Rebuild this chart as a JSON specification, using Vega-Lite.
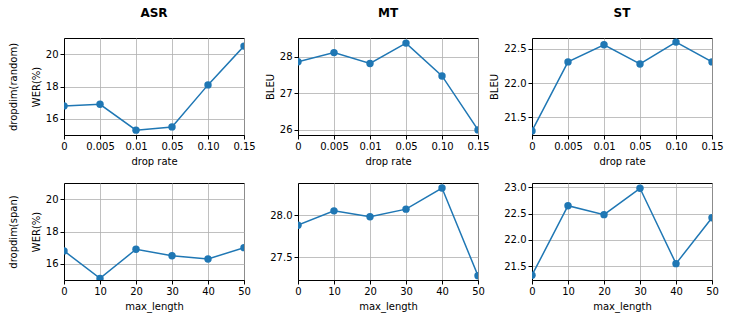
{
  "$schema": "https://vega.github.io/schema/vega-lite/v6.json",
  "padding": {"left": 7, "top": 6, "right": 5, "bottom": 5},
  "background": "white",
  "datasets": {
    "random": [
      {"task": "ASR", "rate": "0", "v": 16.8},
      {"task": "ASR", "rate": "0.005", "v": 16.9},
      {"task": "ASR", "rate": "0.01", "v": 15.3},
      {"task": "ASR", "rate": "0.05", "v": 15.5},
      {"task": "ASR", "rate": "0.10", "v": 18.1},
      {"task": "ASR", "rate": "0.15", "v": 20.5},
      {"task": "MT", "rate": "0", "v": 27.87},
      {"task": "MT", "rate": "0.005", "v": 28.12},
      {"task": "MT", "rate": "0.01", "v": 27.82},
      {"task": "MT", "rate": "0.05", "v": 28.38},
      {"task": "MT", "rate": "0.10", "v": 27.48},
      {"task": "MT", "rate": "0.15", "v": 26.0},
      {"task": "ST", "rate": "0", "v": 21.3},
      {"task": "ST", "rate": "0.005", "v": 22.31},
      {"task": "ST", "rate": "0.01", "v": 22.56},
      {"task": "ST", "rate": "0.05", "v": 22.28},
      {"task": "ST", "rate": "0.10", "v": 22.6},
      {"task": "ST", "rate": "0.15", "v": 22.31}
    ],
    "span": [
      {"task": "ASR", "len": 0, "v": 16.8},
      {"task": "ASR", "len": 10, "v": 15.1},
      {"task": "ASR", "len": 20, "v": 16.9},
      {"task": "ASR", "len": 30, "v": 16.5},
      {"task": "ASR", "len": 40, "v": 16.3},
      {"task": "ASR", "len": 50, "v": 17.0},
      {"task": "MT", "len": 0, "v": 27.88},
      {"task": "MT", "len": 10, "v": 28.05},
      {"task": "MT", "len": 20, "v": 27.98},
      {"task": "MT", "len": 30, "v": 28.07},
      {"task": "MT", "len": 40, "v": 28.32},
      {"task": "MT", "len": 50, "v": 27.28},
      {"task": "ST", "len": 0, "v": 21.33},
      {"task": "ST", "len": 10, "v": 22.65},
      {"task": "ST", "len": 20, "v": 22.48},
      {"task": "ST", "len": 30, "v": 22.98},
      {"task": "ST", "len": 40, "v": 21.55},
      {"task": "ST", "len": 50, "v": 22.42}
    ]
  },
  "columns": 3,
  "spacing": {"row": 48, "column": 54},
  "bounds": "flush",
  "concat": [
    {
      "width": 180, "height": 97,
      "title": {"text": "ASR", "fontSize": 12, "fontWeight": "bold", "frame": "group", "offset": 18, "font": "DejaVu Sans"},
      "data": {"name": "random"},
      "transform": [{"filter": "datum.task === 'ASR'"}],
      "encoding": {
        "x": {"field": "rate", "type": "ordinal", "sort": null, "scale": {"type": "point", "padding": 0}, "axis": {"title": "drop rate", "labelAngle": 0, "grid": true}},
        "y": {"field": "v", "type": "quantitative", "scale": {"domain": [15, 21], "nice": false, "zero": false}, "axis": {"values": [16, 18, 20], "title": ["dropdim(random)", "WER(%)"], "titleLineHeight": 23}}
      },
      "layer": [
        {"mark": {"type": "line", "clip": true, "color": "#1f77b4", "strokeWidth": 1.5}},
        {"mark": {"type": "point", "filled": true, "size": 55, "opacity": 1, "clip": true, "color": "#1f77b4"}}
      ]
    },
    {
      "width": 180, "height": 97,
      "title": {"text": "MT", "fontSize": 12, "fontWeight": "bold", "frame": "group", "offset": 18, "font": "DejaVu Sans"},
      "data": {"name": "random"},
      "transform": [{"filter": "datum.task === 'MT'"}],
      "encoding": {
        "x": {"field": "rate", "type": "ordinal", "sort": null, "scale": {"type": "point", "padding": 0}, "axis": {"title": "drop rate", "labelAngle": 0, "grid": true}},
        "y": {"field": "v", "type": "quantitative", "scale": {"domain": [25.86, 28.52], "nice": false, "zero": false}, "axis": {"values": [26, 27, 28], "title": "BLEU"}}
      },
      "layer": [
        {"mark": {"type": "line", "clip": true, "color": "#1f77b4", "strokeWidth": 1.5}},
        {"mark": {"type": "point", "filled": true, "size": 55, "opacity": 1, "clip": true, "color": "#1f77b4"}}
      ]
    },
    {
      "width": 180, "height": 97,
      "title": {"text": "ST", "fontSize": 12, "fontWeight": "bold", "frame": "group", "offset": 18, "font": "DejaVu Sans"},
      "data": {"name": "random"},
      "transform": [{"filter": "datum.task === 'ST'"}],
      "encoding": {
        "x": {"field": "rate", "type": "ordinal", "sort": null, "scale": {"type": "point", "padding": 0}, "axis": {"title": "drop rate", "labelAngle": 0, "grid": true}},
        "y": {"field": "v", "type": "quantitative", "scale": {"domain": [21.24, 22.66], "nice": false, "zero": false}, "axis": {"values": [21.5, 22.0, 22.5], "format": ".1f", "title": "BLEU"}}
      },
      "layer": [
        {"mark": {"type": "line", "clip": true, "color": "#1f77b4", "strokeWidth": 1.5}},
        {"mark": {"type": "point", "filled": true, "size": 55, "opacity": 1, "clip": true, "color": "#1f77b4"}}
      ]
    },
    {
      "width": 180, "height": 97,
      "data": {"name": "span"},
      "transform": [{"filter": "datum.task === 'ASR'"}],
      "encoding": {
        "x": {"field": "len", "type": "quantitative", "scale": {"domain": [0, 50], "nice": false}, "axis": {"title": "max_length", "values": [0, 10, 20, 30, 40, 50]}},
        "y": {"field": "v", "type": "quantitative", "scale": {"domain": [15, 21], "nice": false, "zero": false}, "axis": {"values": [16, 18, 20], "title": ["dropdim(span)", "WER(%)"], "titleLineHeight": 23}}
      },
      "layer": [
        {"mark": {"type": "line", "clip": true, "color": "#1f77b4", "strokeWidth": 1.5}},
        {"mark": {"type": "point", "filled": true, "size": 55, "opacity": 1, "clip": true, "color": "#1f77b4"}}
      ]
    },
    {
      "width": 180, "height": 97,
      "data": {"name": "span"},
      "transform": [{"filter": "datum.task === 'MT'"}],
      "encoding": {
        "x": {"field": "len", "type": "quantitative", "scale": {"domain": [0, 50], "nice": false}, "axis": {"title": "max_length", "values": [0, 10, 20, 30, 40, 50]}},
        "y": {"field": "v", "type": "quantitative", "scale": {"domain": [27.23, 28.38], "nice": false, "zero": false}, "axis": {"values": [27.5, 28.0], "format": ".1f", "title": null}}
      },
      "layer": [
        {"mark": {"type": "line", "clip": true, "color": "#1f77b4", "strokeWidth": 1.5}},
        {"mark": {"type": "point", "filled": true, "size": 55, "opacity": 1, "clip": true, "color": "#1f77b4"}}
      ]
    },
    {
      "width": 180, "height": 97,
      "data": {"name": "span"},
      "transform": [{"filter": "datum.task === 'ST'"}],
      "encoding": {
        "x": {"field": "len", "type": "quantitative", "scale": {"domain": [0, 50], "nice": false}, "axis": {"title": "max_length", "values": [0, 10, 20, 30, 40, 50]}},
        "y": {"field": "v", "type": "quantitative", "scale": {"domain": [21.24, 23.08], "nice": false, "zero": false}, "axis": {"values": [21.5, 22.0, 22.5, 23.0], "format": ".1f", "title": null}}
      },
      "layer": [
        {"mark": {"type": "line", "clip": true, "color": "#1f77b4", "strokeWidth": 1.5}},
        {"mark": {"type": "point", "filled": true, "size": 55, "opacity": 1, "clip": true, "color": "#1f77b4"}}
      ]
    }
  ],
  "config": {
    "font": "DejaVu Sans",
    "view": {"stroke": "black", "strokeWidth": 1},
    "axis": {
      "labelFont": "DejaVu Sans", "labelFontSize": 10, "labelColor": "black",
      "titleFont": "DejaVu Sans", "titleFontSize": 10, "titleFontWeight": "normal", "titleColor": "black",
      "domainColor": "black", "tickColor": "black", "tickSize": 4, "labelPadding": 2, "titlePadding": 4,
      "grid": true, "gridColor": "#b0b0b0", "gridWidth": 0.8, "labelFlush": false, "labelOverlap": false
    },
    "axisX": {"titlePadding": 5}
  }
}
